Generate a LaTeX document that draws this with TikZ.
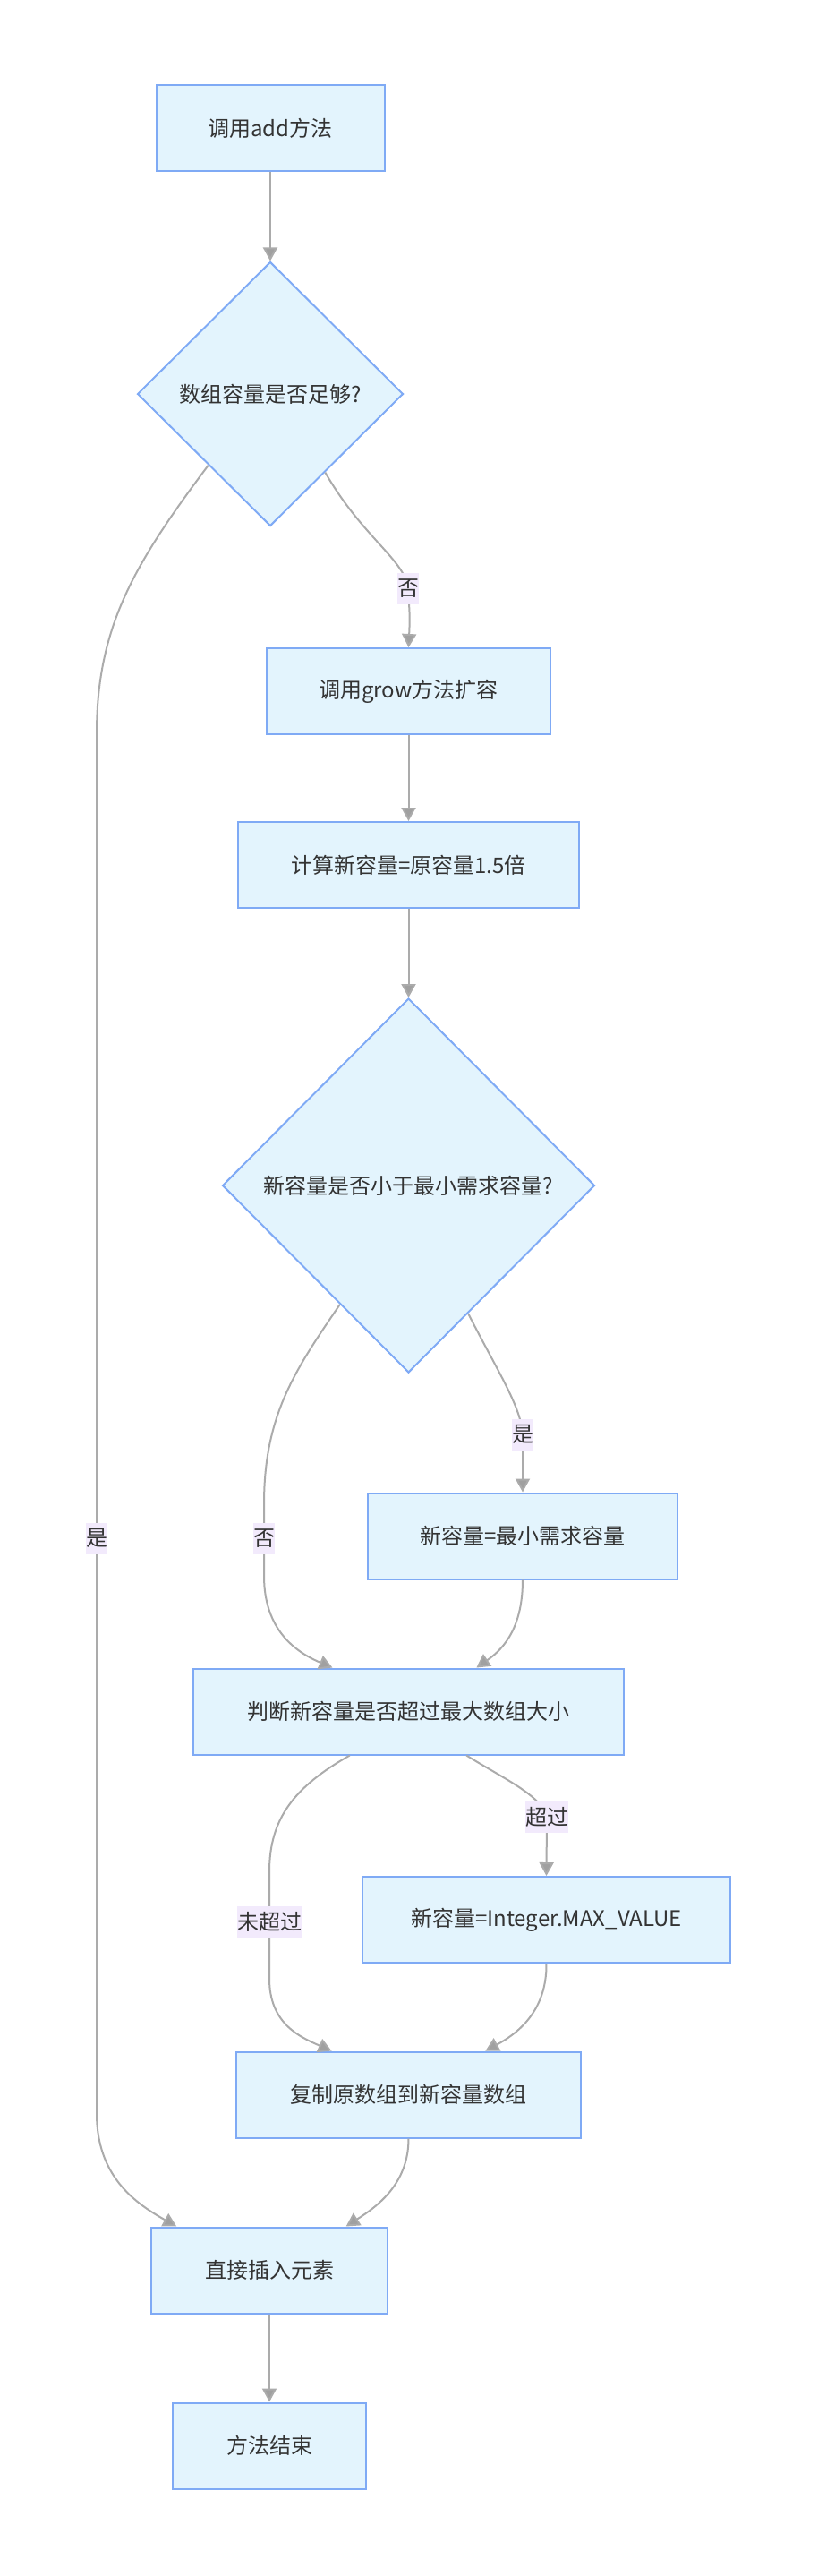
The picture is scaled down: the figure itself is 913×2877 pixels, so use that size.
\documentclass[tikz,border=0pt]{standalone}
\usepackage{fontspec}
\setmainfont{Noto Sans CJK SC}
\usepackage{tikz}
\usetikzlibrary{
  shapes.geometric,
  arrows.meta,
  positioning,
  calc
}
\definecolor{nodefill}{HTML}{E3F4FD}
\definecolor{nodeline}{HTML}{7FAAF5}
\definecolor{edgeline}{HTML}{ABABAB}
\definecolor{tipfill}{HTML}{A0A0A0}
\definecolor{labelbg}{HTML}{F2EAFC}
\definecolor{textcol}{HTML}{333333}

\begin{document}
\begin{tikzpicture}[
  x=1pt, y=-1pt,
  every node/.style={font=\fontsize{24pt}{28pt}\selectfont, text=textcol}
]
  % Styles
  \tikzstyle{block} = [rectangle, minimum height=96pt, inner sep=0pt, text centered, draw=nodeline, fill=nodefill, line width=2pt]
  \tikzstyle{decision} = [diamond, aspect=1, inner sep=0pt, text centered, draw=nodeline, fill=nodefill, line width=2pt]
  \tikzstyle{lbl} = [rectangle, fill=labelbg, inner xsep=0pt, inner ysep=0pt, minimum height=35pt]
  \tikzstyle{arrow} = [draw=edgeline, line width=2pt, -{Triangle[length=15pt, width=16pt, fill=tipfill]}]

  \useasboundingbox (0,0) rectangle (913,2877);

  % Main column
  \node[block, minimum width=255pt] (addcall) at (302,143) {调用add方法};
  \node[decision, minimum width=297pt, minimum height=295pt] (enough) at (302,440) {数组容量是否足够?};
  \node[block, minimum width=317pt] (grow) at (456.5,772) {调用grow方法扩容};
  \node[block, minimum width=381pt] (newcap) at (456.5,966) {计算新容量=原容量1.5倍};
  \node[decision, minimum width=416pt, minimum height=418pt] (lessmin) at (456.5,1324) {新容量是否小于最小需求容量?};
  \node[block, minimum width=346pt] (setmin) at (584,1715.5) {新容量=最小需求容量};
  \node[block, minimum width=481pt] (checkmax) at (456.5,1911.5) {判断新容量是否超过最大数组大小};
  \node[block, minimum width=411pt] (setmax) at (610.5,2144) {新容量=Integer.MAX\_VALUE};
  \node[block, minimum width=385pt] (copy) at (456.5,2339.5) {复制原数组到新容量数组};
  \node[block, minimum width=264pt] (insert) at (301,2535.5) {直接插入元素};
  \node[block, minimum width=216pt] (finish) at (301,2731.5) {方法结束};

  % Arrow ends on the box edges
  \coordinate (checkin1)  at ($(checkmax.north west)!0.324!(checkmax.north east)$);
  \coordinate (checkin2)  at ($(checkmax.north west)!0.657!(checkmax.north east)$);
  \coordinate (checkout1) at ($(checkmax.south west)!0.364!(checkmax.south east)$);
  \coordinate (checkout2) at ($(checkmax.south west)!0.634!(checkmax.south east)$);
  \coordinate (copyin1)   at ($(copy.north west)!0.278!(copy.north east)$);
  \coordinate (copyin2)   at ($(copy.north west)!0.722!(copy.north east)$);
  \coordinate (insertin1) at ($(insert.north west)!0.11!(insert.north east)$);
  \coordinate (insertin2) at ($(insert.north west)!0.822!(insert.north east)$);

  % Arrows
  \draw[arrow] (addcall) -- (enough);
  \draw[arrow] (enough.-55) .. controls (405,600) and (452,625) .. (456,657) node[lbl] (no1) {否}
    .. controls (458,690) .. (grow.north);
  \draw[arrow] (enough.-131) .. controls (150,630) and (108,700) .. (108,820) -- (108,1718) node[lbl] (yes1) {是}
    -- (108,2360) .. controls (108,2430) and (150,2460) .. (insertin1);
  \draw[arrow] (grow) -- (newcap);
  \draw[arrow] (newcap) -- (lessmin);

  % Minimum capacity check
  \draw[arrow] (lessmin.-65) .. controls (555,1530) and (582,1570) .. (584,1602) node[lbl] (yes2) {是} -- (setmin.north);
  \draw[arrow] (lessmin.-120) .. controls (330,1530) and (295,1580) .. (295,1680) -- (295,1718) node[lbl] (no2) {否}
    -- (295,1760) .. controls (295,1820) and (330,1845) .. (checkin1);
  \draw[arrow] (setmin.south) .. controls (584,1815) and (565,1840) .. (checkin2);

  % Maximum size check
  \draw[arrow] (checkout2) .. controls (560,1985) and (605,2005) .. (611,2029) node[lbl] (over) {超过} -- (setmax.north);
  \draw[arrow] (checkout1) .. controls (330,1995) and (301,2030) .. (301,2090) -- (301,2146) node[lbl] (notover) {未超过}
    -- (301,2210) .. controls (301,2260) and (335,2275) .. (copyin1);
  \draw[arrow] (setmax.south) .. controls (611,2245) and (580,2270) .. (copyin2);
  \draw[arrow] (copy.south) .. controls (456.5,2440) and (420,2465) .. (insertin2);
  \draw[arrow] (insert) -- (finish);
\end{tikzpicture}
\end{document}
